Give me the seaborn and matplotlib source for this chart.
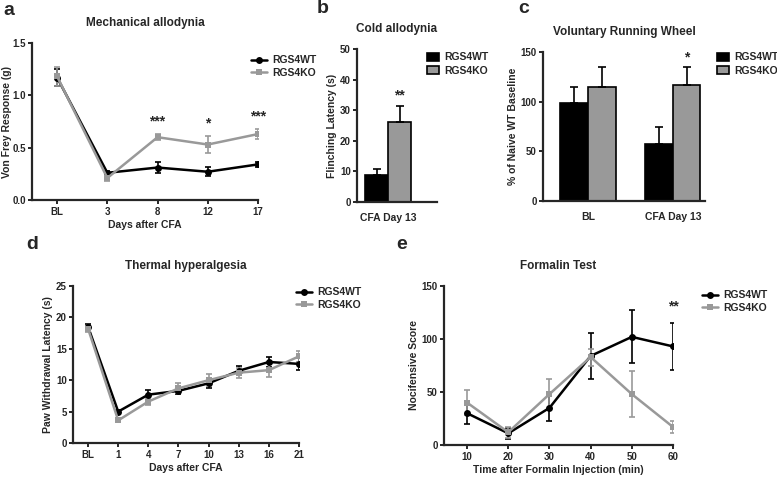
import numpy as np
import pandas as pd
import matplotlib
matplotlib.use('Agg')
import matplotlib.pyplot as plt
import seaborn as sns

# ---- data ----
groups = ['RGS4WT', 'RGS4KO']

# a: mechanical allodynia
mech_days = ['BL', '3', '8', '12', '17']
mech_wt = [1.17, 0.26, 0.31, 0.27, 0.34]
mech_wt_err = [0.08, 0.02, 0.05, 0.045, 0.025]
mech_ko = [1.18, 0.21, 0.60, 0.53, 0.63]
mech_ko_err = [0.09, 0.03, 0.03, 0.08, 0.05]
mech_stars = ['', '', '***', '*', '***']

# b: cold allodynia
cold_cat = ['CFA Day 13']
cold_wt = [8.7]
cold_wt_err = [2.2]
cold_ko = [26.0]
cold_ko_err = [5.3]

# c: voluntary running wheel
wheel_cat = ['BL', 'CFA Day 13']
wheel_wt = [99, 57]
wheel_wt_err = [16, 17]
wheel_ko = [115, 117]
wheel_ko_err = [20, 18]

# d: thermal hyperalgesia
therm_days = ['BL', '1', '4', '7', '10', '13', '16', '21']
therm_wt = [18.5, 5.0, 7.7, 8.3, 9.5, 11.5, 12.9, 12.6]
therm_wt_err = [0.5, 0.3, 0.8, 0.5, 0.7, 0.7, 0.8, 1.0]
therm_ko = [18.2, 3.6, 6.6, 8.7, 10.0, 11.2, 11.6, 13.8]
therm_ko_err = [0.5, 0.3, 0.5, 0.8, 1.0, 0.8, 1.1, 0.9]

# e: formalin test
form_time = [10, 20, 30, 40, 50, 60]
form_wt = [30, 11, 35, 84, 102, 93]
form_wt_err = [10, 5, 12, 22, 25, 22]
form_ko = [40, 12, 48, 83, 48, 17]
form_ko_err = [12, 5, 14, 8, 22, 6]

BLACK = '#000000'
GREY = '#999999'

sns.set_style('ticks')
plt.rcParams['font.family'] = ['Liberation Sans', 'DejaVu Sans']
plt.rcParams['font.weight'] = 'bold'
plt.rcParams['axes.labelweight'] = 'bold'
plt.rcParams['axes.linewidth'] = 1.6
plt.rcParams['xtick.major.width'] = 1.4
plt.rcParams['ytick.major.width'] = 1.4
plt.rcParams['xtick.major.size'] = 3
plt.rcParams['ytick.major.size'] = 3
plt.rcParams['xtick.major.pad'] = 2
plt.rcParams['ytick.major.pad'] = 1.5
plt.rcParams['xtick.labelsize'] = 7
plt.rcParams['ytick.labelsize'] = 7

W, H = 777, 480
fig = plt.figure(figsize=(W / 100, H / 100), dpi=100)


def px_axes(left, right, top, bottom):
    return fig.add_axes([left / W, 1 - bottom / H, (right - left) / W, (bottom - top) / H])


def style(ax, title, ylabel, xlabel=None, ypad=2):
    sns.despine(ax=ax)
    ax.set_title(title, fontsize=8.5, fontweight='bold', pad=12)
    ax.set_ylabel(ylabel, fontsize=7.5, fontweight='bold', labelpad=ypad)
    if xlabel:
        ax.set_xlabel(xlabel, fontsize=7.5, fontweight='bold', labelpad=2)
    else:
        ax.set_xlabel('')
    for lab in ax.get_xticklabels() + ax.get_yticklabels():
        lab.set_fontweight('bold')


def line_panel(ax, x, wt, wt_err, ko, ko_err):
    for vals, err, col in [(wt, wt_err, BLACK), (ko, ko_err, GREY)]:
        ax.errorbar(x, vals, yerr=err, fmt='none', ecolor=col, elinewidth=1.2,
                    capsize=2.5, capthick=1.2, zorder=2)
    df = pd.DataFrame({'x': list(x) * 2, 'y': list(wt) + list(ko),
                       'group': [groups[0]] * len(wt) + [groups[1]] * len(ko)})
    sns.lineplot(data=df, x='x', y='y', hue='group', style='group',
                 palette=[BLACK, GREY], markers=['o', 's'], dashes=False,
                 markersize=5, markeredgewidth=0, linewidth=1.8, ax=ax, zorder=3)


def line_legend(ax, fx, fy):
    h, l = ax.get_legend_handles_labels()
    ax.legend(h, l, loc='upper left', bbox_to_anchor=(fx / W, 1 - fy / H),
              bbox_transform=fig.transFigure, frameon=False, fontsize=7.5,
              handlelength=1.5, handletextpad=0.5, labelspacing=0.25, borderaxespad=0)


def bar_panel(ax, cats, wt, wt_err, ko, ko_err, width):
    df = pd.DataFrame({'cat': cats * 2, 'y': wt + ko,
                       'group': [groups[0]] * len(cats) + [groups[1]] * len(cats)})
    sns.barplot(data=df, x='cat', y='y', hue='group', palette=[BLACK, GREY],
                errorbar=None, width=width, edgecolor=BLACK, linewidth=1.2,
                saturation=1, ax=ax)
    errs = wt_err + ko_err
    vals = wt + ko
    for p, v, e in zip(ax.patches[:len(vals)], vals, errs):
        cx = p.get_x() + p.get_width() / 2
        ax.errorbar([cx], [v], yerr=[[0], [e]], fmt='none', ecolor=BLACK,
                    elinewidth=1.2, capsize=3, capthick=1.2, zorder=1)
    return ax.patches[:len(vals)]


def bar_legend(ax, fx, fy):
    h, l = ax.get_legend_handles_labels()
    ax.legend(h, l, loc='upper left', bbox_to_anchor=(fx / W, 1 - fy / H),
              bbox_transform=fig.transFigure, frameon=False, fontsize=7.5,
              handlelength=1.1, handleheight=0.8, handletextpad=0.5,
              labelspacing=0.35, borderaxespad=0)


# ---- a ----
ax = px_axes(32, 258, 43, 200)
xa = np.arange(len(mech_days))
line_panel(ax, xa, mech_wt, mech_wt_err, mech_ko, mech_ko_err)
ax.set_xlim(-0.5, len(mech_days) - 1)
ax.set_ylim(0, 1.5)
ax.set_yticks([0, 0.5, 1.0, 1.5])
ax.set_yticklabels(['0.0', '0.5', '1.0', '1.5'])
ax.set_xticks(xa)
ax.set_xticklabels(mech_days)
style(ax, 'Mechanical allodynia', 'Von Frey Response (g)', 'Days after CFA', ypad=0.5)
for i, s in enumerate(mech_stars):
    if s:
        top = max(mech_ko[i] + mech_ko_err[i], mech_wt[i] + mech_wt_err[i])
        ax.text(xa[i], top + 0.05, s, ha='center', va='bottom', fontsize=10, fontweight='bold')
line_legend(ax, 247, 51)

# ---- b ----
ax = px_axes(357, 437, 49, 202)
patches = bar_panel(ax, cold_cat, cold_wt, cold_wt_err, cold_ko, cold_ko_err, 0.58)
ax.set_xlim(-0.39, 0.61)
ax.set_ylim(0, 50)
ax.set_yticks([0, 10, 20, 30, 40, 50])
style(ax, 'Cold allodynia', 'Flinching Latency (s)')
ax.tick_params(axis='x', length=0, pad=8, labelsize=7.5)
ko_bar = patches[1]
ax.text(ko_bar.get_x() + ko_bar.get_width() / 2, cold_ko[0] + cold_ko_err[0] + 1.2, '**',
        ha='center', va='bottom', fontsize=10, fontweight='bold')
bar_legend(ax, 423, 48)

# ---- c ----
ax = px_axes(543, 705, 52, 201)
patches = bar_panel(ax, wheel_cat, wheel_wt, wheel_wt_err, wheel_ko, wheel_ko_err, 0.65)
ax.set_xlim(-0.53, 1.38)
ax.set_ylim(0, 150)
ax.set_yticks([0, 50, 100, 150])
style(ax, 'Voluntary Running Wheel', '% of Naive WT Baseline')
ax.tick_params(axis='x', length=0, pad=8, labelsize=7.5)
ko_bar = patches[3]
ax.text(ko_bar.get_x() + ko_bar.get_width() / 2, wheel_ko[1] + wheel_ko_err[1] + 2, '*',
        ha='center', va='bottom', fontsize=10, fontweight='bold')
bar_legend(ax, 713, 48)

# ---- d ----
ax = px_axes(73, 299, 286, 443)
xd = np.arange(len(therm_days))
line_panel(ax, xd, therm_wt, therm_wt_err, therm_ko, therm_ko_err)
ax.set_xlim(-0.5, len(therm_days) - 1)
ax.set_ylim(0, 25)
ax.set_yticks([0, 5, 10, 15, 20, 25])
ax.set_xticks(xd)
ax.set_xticklabels(therm_days)
style(ax, 'Thermal hyperalgesia', 'Paw Withdrawal Latency (s)', 'Days after CFA')
line_legend(ax, 292, 283)

# ---- e ----
ax = px_axes(444, 673, 286, 445)
line_panel(ax, form_time, form_wt, form_wt_err, form_ko, form_ko_err)
ax.set_xlim(4.4, 60)
ax.set_ylim(0, 150)
ax.set_yticks([0, 50, 100, 150])
ax.set_xticks(form_time)
style(ax, 'Formalin Test', 'Nocifensive Score', 'Time after Formalin Injection (min)')
ax.text(form_time[-1], 124, '**', ha='center', va='bottom', fontsize=10, fontweight='bold')
line_legend(ax, 698, 286)

# panel letters
for lx, ly, letter in [(3, 2, 'a'), (317, 0, 'b'), (518, 0, 'c'), (26, 236, 'd'), (396, 236, 'e')]:
    fig.text(lx / W, 1 - ly / H, letter, fontsize=14, fontweight='bold', va='top', ha='left')

fig.savefig('out.png', dpi=100)
